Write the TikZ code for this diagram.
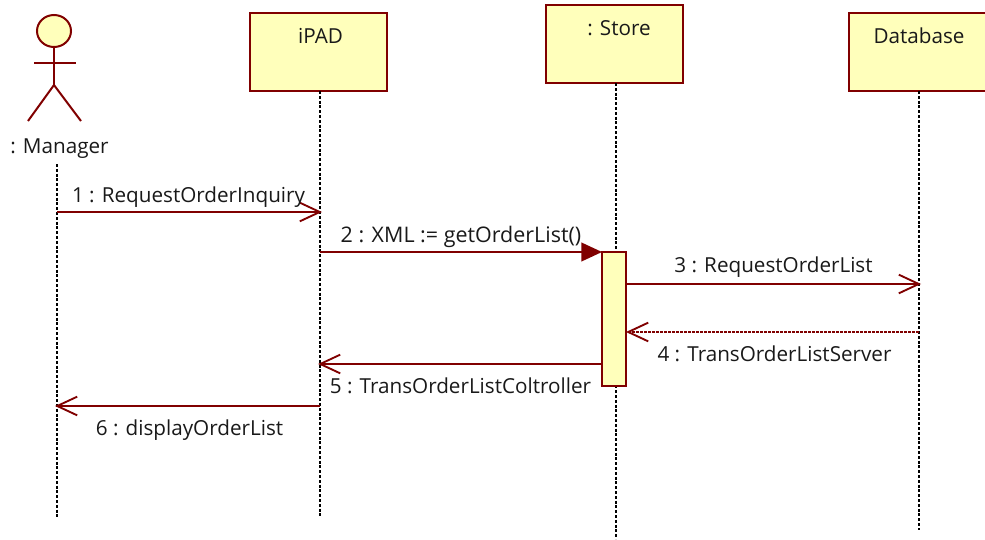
\documentclass[tikz,border=0pt]{standalone}
\usepackage{fontspec}
\setmainfont{Open Sans}
\usetikzlibrary{arrows.meta,shapes.geometric}
\definecolor{umlred}{RGB}{128,0,0}
\definecolor{umlfill}{RGB}{255,255,187}
\definecolor{umltext}{RGB}{25,25,25}
\tikzset{
  x=0.75pt,y=-0.75pt,
  objbox/.style={draw=umlred,fill=umlfill,line width=1.5pt,minimum width=102.75pt,minimum height=58.5pt,inner sep=0pt,outer sep=0pt,anchor=north west},
  lifeline/.style={draw=black,line width=1pt,dash pattern=on 2.2pt off 1.4pt},
  actorline/.style={draw=umlred,line width=1.5pt},
  msg/.style={draw=umlred,line width=1.5pt,-{Straight Barb[length=15pt,width=14pt,line width=1.4pt]}},
  syncmsg/.style={draw=umlred,line width=1.5pt,-{Triangle[length=15.5pt,width=14pt,fill=umlred]}},
  retmsg/.style={draw=umlred,line width=1.2pt,dash pattern=on 2pt off 1pt,-{Straight Barb[length=15pt,width=14pt,line width=1.4pt]}},
  lbl/.style={font=\fontsize{15.5}{18}\selectfont,text=umltext,inner sep=0pt,anchor=base},
  objlbl/.style={font=\fontsize{15.5}{18}\selectfont,text=umltext,inner sep=0pt,anchor=base}
}
\begin{document}
\begin{tikzpicture}
\useasboundingbox (0,0) rectangle (985,539);
% lifeline ends
\coordinate (mgrtop) at (57,164);
\coordinate (mgrbot) at (57,517);
\coordinate (ipadbot) at (320,517);
\coordinate (storebot) at (616,539);
\coordinate (dbbot) at (919,530);
% boxes
\node[objbox] (ipad) at (250,13) {};
\node[objbox] (store) at (546,5) {};
\node[objbox] (db) at (849,13) {};
\coordinate (ipadtop) at (320,91);
\coordinate (storetop) at (616,83);
\coordinate (dbtop) at (919,91);
\draw[lifeline] (mgrtop) -- (mgrbot);
\draw[lifeline] (ipadtop) -- (ipadbot);
\draw[lifeline] (storetop) -- (storebot);
\draw[lifeline] (dbtop) -- (dbbot);
\node[objlbl] (ipadlbl) at (320.5,43) {iPAD};
\node[objlbl] (storelbl) at (619,35) {: Store};
\node[objlbl] (dblbl) at (919,43) {Database};
% actor
\node[draw=umlred,fill=umlfill,ellipse,line width=1.5pt,minimum width=25.5pt,minimum height=24pt,inner sep=0pt,outer sep=0pt] (head) at (54,31) {};
\coordinate (hip) at (54,85);
\coordinate (armL) at (34,63);
\coordinate (armR) at (76,63);
\coordinate (legL) at (28,121);
\coordinate (legR) at (81,121);
\draw[actorline] (head.south) -- (hip);
\draw[actorline] (armL) -- (armR);
\draw[actorline] (legL) -- (hip) -- (legR);
\node[lbl] (mgrlbl) at (59.5,153) {: Manager};
% activation
\node[draw=umlred,fill=umlfill,line width=1.5pt,minimum width=18pt,minimum height=100.5pt,inner sep=0pt,outer sep=0pt,anchor=north west] (act) at (602,252) {};
% messages
\coordinate (m1a) at (57,212); \coordinate (m1b) at (322,212);
\coordinate (m2a) at (320,252); \coordinate (m2b) at (602,252);
\coordinate (m3a) at (626,284); \coordinate (m3b) at (921,284);
\coordinate (m4a) at (919,332); \coordinate (m4b) at (626,332);
\coordinate (m5a) at (602,364); \coordinate (m5b) at (318,364);
\coordinate (m6a) at (320,406); \coordinate (m6b) at (55,406);
\draw[msg] (m1a) -- (m1b);
\draw[syncmsg] (m2a) -- (m2b);
\draw[msg] (m3a) -- (m3b);
\draw[retmsg] (m4a) -- (m4b);
\draw[msg] (m5a) -- (m5b);
\draw[msg] (m6a) -- (m6b);
\node[lbl] (t1) at (188.5,202) {1 : RequestOrderInquiry};
\node[lbl,font=\fontsize{16.1}{18}\selectfont] (t2) at (461,242) {2 : XML := getOrderList()};
\node[lbl] (t3) at (773.5,272) {3 : RequestOrderList};
\node[lbl] (t4) at (774.5,361) {4 : TransOrderListServer};
\node[lbl] (t5) at (460.5,393) {5 : TransOrderListColtroller};
\node[lbl] (t6) at (189.5,435) {6 : displayOrderList};
\end{tikzpicture}
\end{document}
